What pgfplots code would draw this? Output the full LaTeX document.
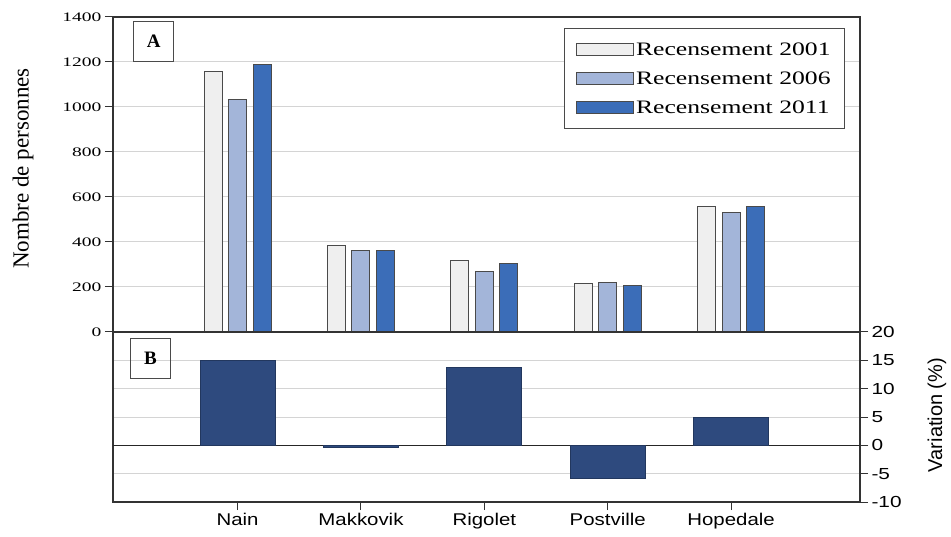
\documentclass[border=0pt]{standalone}
\usepackage{fontspec}
\setmainfont{Liberation Serif}
\setsansfont{Liberation Sans}
\usepackage{graphicx}
\usepackage{pgfplots}
\pgfplotsset{compat=1.18}
\definecolor{cA}{HTML}{EFEFEF}
\definecolor{cB}{HTML}{A3B5D9}
\definecolor{cC}{HTML}{3B6DB8}
\definecolor{cD}{HTML}{2E4A7E}
\definecolor{edge}{HTML}{4A4A4A}
\definecolor{gridc}{HTML}{D4D4D4}
\newcommand{\hs}[2][1.3]{\scalebox{#1}[1]{#2}}
\begin{document}
\begin{tikzpicture}
\useasboundingbox (0,0) rectangle (951pt,536pt);
\begin{axis}[
  scale only axis, width=747pt, height=315pt,
  at={(113pt,204pt)}, anchor=south west,
  xmin=-1.01, xmax=5.045, ymin=0, ymax=1400,
  xtick=\empty,
  ytick={0,200,...,1400},
  yticklabel={\hs[1.5]{\pgfmathprintnumber[assume math mode=true,1000 sep={}]{\tick}}},
  y tick label style={font=\fontsize{13}{15}\selectfont},
  ytick pos=left, tick align=outside, major tick length=8pt,
  tick style={line width=1pt, black!80},
  ymajorgrids, grid style={gridc, line width=1pt},
  axis line style={line width=1.3pt, black!80},
  ylabel={\fontsize{23}{25}\selectfont Nombre de personnes},
  ylabel style={at={(axis description cs:-0.1205,0.519)}, anchor=center},
  legend style={at={(0.98,0.965)}, anchor=north east, draw=edge, line width=1pt,
    inner xsep=12pt, inner ysep=12pt, row sep=11pt,
    font=\fontsize{19}{21}\selectfont},
  legend cell align=left,
  legend image code/.code={\draw[#1] (0pt,-6pt) rectangle (57pt,6pt);},
]
\addplot[ybar, bar width=18pt, bar shift=-24.5pt, fill=cA, draw=edge, line width=1pt]
  coordinates {(0,1159) (1,384) (2,317) (3,215) (4,559)};
\addlegendentry{\hs[1.35]{Recensement 2001}}
\addplot[ybar, bar width=18pt, bar shift=0pt, fill=cB, draw=edge, line width=1pt]
  coordinates {(0,1034) (1,362) (2,269) (3,219) (4,530)};
\addlegendentry{\hs[1.35]{Recensement 2006}}
\addplot[ybar, bar width=18pt, bar shift=24.5pt, fill=cC, draw=edge, line width=1pt]
  coordinates {(0,1188) (1,361) (2,306) (3,206) (4,556)};
\addlegendentry{\hs[1.35]{Recensement 2011}}
\node[draw=edge, line width=1pt, minimum size=40pt, anchor=north west, inner sep=0pt,
  font=\fontsize{19}{21}\selectfont\bfseries] at (rel axis cs:0.027,0.987) {A};
\end{axis}
\begin{axis}[
  scale only axis, width=747pt, height=170pt,
  at={(113pt,34pt)}, anchor=south west,
  xmin=-1.01, xmax=5.045, ymin=-10, ymax=20,
  xtick={0,1,2,3,4},
  xticklabels={\hs[1.2]{Nain},\hs[1.2]{Makkovik},\hs[1.2]{Rigolet},\hs[1.2]{Postville},\hs[1.2]{Hopedale}},
  x tick label style={font=\sffamily\fontsize{17}{19}\selectfont},
  xtick pos=bottom, 
  ytick={-10,-5,...,20},
  yticklabels={\hs{-10},\hs{-5},\hs{0},\hs{5},\hs{10},\hs{15},\hs{20}},
  y tick label style={font=\sffamily\fontsize{16}{18}\selectfont},
  ytick pos=right, yticklabel pos=right,
  tick align=outside, major tick length=8pt,
  tick style={line width=1pt, black!80},
  ymajorgrids, grid style={gridc, line width=1pt},
  extra y ticks={0}, extra y tick labels={},
  extra y tick style={grid style={black!85, line width=1.3pt}},
  axis line style={line width=1.3pt, black!80},
  ylabel={\sffamily\fontsize{20}{22}\selectfont Variation (\%)},
  ylabel style={at={(axis description cs:1.103,0.512)}, anchor=center},
]
\addplot[ybar, bar width=75pt, bar shift=0pt, fill=cD, draw=cD!75!black, line width=1pt]
  coordinates {(0,14.9) (1,-0.3) (2,13.8) (3,-5.9) (4,4.9)};
\node[draw=edge, line width=1pt, minimum size=40pt, anchor=north west, inner sep=0pt,
  font=\fontsize{19}{21}\selectfont\bfseries] at (rel axis cs:0.0228,0.965) {B};
\end{axis}
\end{tikzpicture}
\end{document}
